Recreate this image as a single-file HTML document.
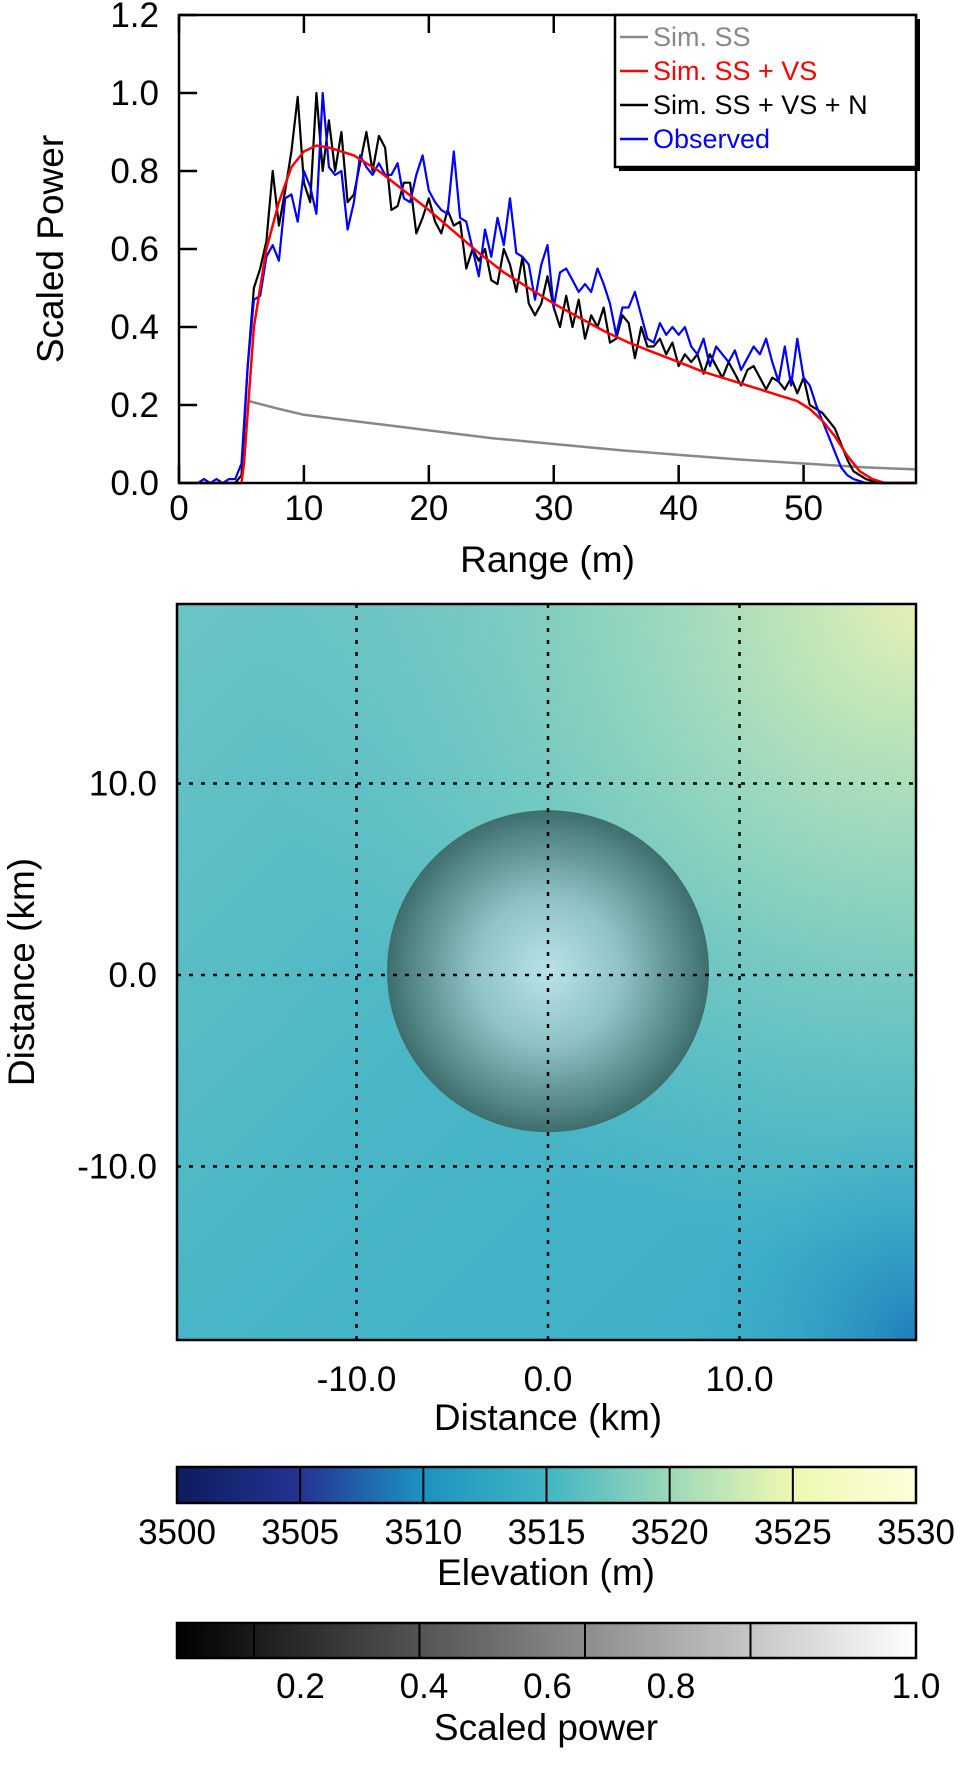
<!DOCTYPE html>
<html><head><meta charset="utf-8"><style>
html,body{margin:0;padding:0;background:#fff;}
svg{display:block;font-family:"Liberation Sans",Arial,sans-serif;}
</style></head><body>
<svg id="fig" width="966" height="1768" viewBox="0 0 966 1768" xmlns="http://www.w3.org/2000/svg">
<defs>
<radialGradient id="sphere" cx="0.5" cy="0.5" r="0.5">
<stop offset="0" stop-color="#b8e3e8"/><stop offset="0.45" stop-color="#8fc3c6"/><stop offset="0.8" stop-color="#5b8f8e"/><stop offset="1" stop-color="#3e6e6c"/>
</radialGradient>
<radialGradient id="tr" cx="1" cy="0" r="0.9"><stop offset="0" stop-color="#e4f2b4"/><stop offset="0.4" stop-color="#a4dcbc" stop-opacity="0.85"/><stop offset="1" stop-color="#7fcfc0" stop-opacity="0"/></radialGradient>
<radialGradient id="br" cx="1" cy="1" r="0.3"><stop offset="0" stop-color="#1f7fbd"/><stop offset="1" stop-color="#3aaec8" stop-opacity="0"/></radialGradient>
<linearGradient id="base" x1="0" y1="0" x2="1" y2="1"><stop offset="0" stop-color="#6cc4c4"/><stop offset="0.5" stop-color="#48b6c6"/><stop offset="1" stop-color="#3aadc8"/></linearGradient>
<linearGradient id="elev" x1="0" x2="1"><stop offset="0" stop-color="#0c1c5c"/><stop offset="0.17" stop-color="#253494"/><stop offset="0.33" stop-color="#1d91c0"/><stop offset="0.5" stop-color="#41b6c4"/><stop offset="0.67" stop-color="#9fd9b8"/><stop offset="0.83" stop-color="#edf8b1"/><stop offset="1" stop-color="#fffed9"/></linearGradient>
<linearGradient id="gray" x1="0" x2="1"><stop offset="0" stop-color="#000"/><stop offset="1" stop-color="#fff"/></linearGradient>
</defs>
<g id="topG"></g>
<g id="mapG"></g>
<g id="cbG"></g>
</svg>
<script>
const xs=[1.5,2,2.5,3,3.5,4,4.5,5,5.5,6,6.5,7,7.5,8,8.5,9,9.5,10,10.5,11,11.5,12,12.5,13,13.5,14,14.5,15,15.5,16,16.5,17,17.5,18,18.5,19,19.5,20,20.5,21,21.5,22,22.5,23,23.5,24,24.5,25,25.5,26,26.5,27,27.5,28,28.5,29,29.5,30,30.5,31,31.5,32,32.5,33,33.5,34,34.5,35,35.5,36,36.5,37,37.5,38,38.5,39,39.5,40,40.5,41,41.5,42,42.5,43,43.5,44,44.5,45,45.5,46,46.5,47,47.5,48,48.5,49,49.5,50,50.5,51,51.5,52,52.5,53,53.5,54,55,56,59];
const blackVals=[0,0,0,0,0,0,0,0.02,0.3,0.5,0.55,0.62,0.8,0.66,0.75,0.85,0.99,0.77,0.72,1.0,0.8,0.93,0.8,0.9,0.72,0.74,0.82,0.9,0.8,0.89,0.86,0.7,0.71,0.77,0.77,0.64,0.68,0.73,0.67,0.64,0.7,0.66,0.67,0.55,0.6,0.57,0.6,0.52,0.51,0.6,0.56,0.49,0.58,0.46,0.43,0.46,0.53,0.45,0.4,0.48,0.4,0.47,0.37,0.43,0.4,0.45,0.36,0.37,0.43,0.41,0.32,0.4,0.35,0.35,0.37,0.33,0.36,0.3,0.33,0.31,0.33,0.28,0.33,0.3,0.27,0.31,0.28,0.25,0.29,0.3,0.27,0.24,0.27,0.26,0.24,0.27,0.23,0.27,0.2,0.19,0.18,0.16,0.14,0.1,0.06,0.03,0.01,0,0];
const blueVals=[0,0.01,0,0.01,0,0.01,0.01,0.05,0.3,0.47,0.48,0.58,0.61,0.57,0.73,0.74,0.67,0.8,0.76,0.69,1.0,0.81,0.79,0.8,0.65,0.72,0.84,0.81,0.79,0.82,0.79,0.79,0.82,0.73,0.72,0.79,0.84,0.75,0.72,0.7,0.69,0.85,0.68,0.67,0.6,0.53,0.65,0.58,0.68,0.61,0.73,0.59,0.58,0.56,0.47,0.56,0.61,0.45,0.54,0.55,0.52,0.49,0.51,0.49,0.55,0.51,0.46,0.38,0.45,0.45,0.49,0.43,0.37,0.36,0.41,0.38,0.4,0.38,0.4,0.35,0.33,0.37,0.3,0.35,0.33,0.31,0.34,0.29,0.32,0.35,0.33,0.37,0.31,0.26,0.35,0.25,0.37,0.27,0.25,0.2,0.16,0.12,0.08,0.04,0.02,0.01,0,0,0];
const redX=[1.5,5,5.2,6,7,8,9,10,11,12,14,16,18,20,22,24,26,28,30,32,34,36,38,40,42,44,46,48,49.5,50.5,51.5,52.5,53.5,54.5,55.5,56.5,59];
const redVals=[0,0,0.05,0.4,0.6,0.72,0.81,0.85,0.865,0.86,0.84,0.8,0.75,0.7,0.645,0.59,0.54,0.5,0.46,0.425,0.39,0.36,0.335,0.31,0.285,0.265,0.245,0.225,0.21,0.19,0.16,0.12,0.07,0.03,0.01,0,0];
const grayX=[5.6,8,10,15,20,25,30,35,40,45,50,55,59];
const grayVals=[0.21,0.19,0.175,0.155,0.135,0.115,0.1,0.085,0.072,0.06,0.05,0.04,0.035];
const xTicks=[0,10,20,30,40,50];
const yTicks=[0,0.2,0.4,0.6,0.8,1.0,1.2];
const mapTicks=[-10,0,10];
const elevTicks=[3500,3505,3510,3515,3520,3525,3530];
const powerTicks=[0.2,0.4,0.6,0.8,1.0];

const NS="http://www.w3.org/2000/svg";
const FT=35, FA=37;
function mk(parent,tag,attrs,text){const e=document.createElementNS(NS,tag);for(const k in attrs)e.setAttribute(k,attrs[k]);if(text!==undefined)e.textContent=text;parent.appendChild(e);return e;}

const L=179,R=916,T=15,B=483;
const sx=v=>L+(v-0)/(59-0)*(R-L);
const sy=v=>B-v/1.2*(B-T);
const topG=document.getElementById('topG');


function line(xarr,yarr,color,name,w){const d=xarr.map((x,i)=>(i?'L':'M')+sx(x).toFixed(1)+' '+sy(yarr[i]).toFixed(1)).join(' ');const p=mk(topG,'path',{d:d,fill:'none',stroke:color,'stroke-width':w,'stroke-linejoin':'round'});

}
line(grayX,grayVals,'#888','series-sim-ss',2.5);
line(xs,blackVals,'#000','series-sim-ss-vs-n',2.2);
line(xs,blueVals,'#0000ff','series-observed',2.2);
line(redX,redVals,'#ff0000','series-sim-ss-vs',2.5);
mk(topG,'rect',{x:L,y:T,width:R-L,height:B-T,fill:'none',stroke:'#000','stroke-width':2.5});
xTicks.forEach(t=>{const x=sx(t);mk(topG,'line',{x1:x,x2:x,y1:B,y2:B-18,stroke:'#000','stroke-width':2.5});mk(topG,'line',{x1:x,x2:x,y1:T,y2:T+18,stroke:'#000','stroke-width':2.5});
const tl=mk(topG,'text',{x:x,y:B+37,'font-size':FT,'text-anchor':'middle'},String(t));

});
yTicks.forEach(t=>{const y=sy(t);mk(topG,'line',{x1:L,x2:L+18,y1:y,y2:y,stroke:'#000','stroke-width':2.5});
const tl=mk(topG,'text',{x:L-20,y:y+12,'font-size':FT,'text-anchor':'end'},t.toFixed(1));

});
const xt=mk(topG,'text',{x:(L+R)/2,y:572,'font-size':FA,'text-anchor':'middle'},'Range (m)');


const yt=mk(topG,'text',{x:0,y:0,'font-size':FA,'text-anchor':'middle',transform:'translate(63,249) rotate(-90)'},'Scaled Power');


const lg=mk(topG,'g',{});


mk(lg,'rect',{x:619,y:19,width:301,height:152,fill:'#000'});
mk(lg,'rect',{x:615,y:15,width:301,height:152,fill:'#fff',stroke:'#000','stroke-width':2.5});
[['Sim. SS','#888'],['Sim. SS + VS','#ff0000'],['Sim. SS + VS + N','#000'],['Observed','#0000ff']].forEach((e,i)=>{const y=46+i*34;
mk(lg,'line',{x1:620,x2:648,y1:y-9,y2:y-9,stroke:e[1],'stroke-width':2.5});
const t=mk(lg,'text',{x:653,y:y,'font-size':27,fill:e[1]},e[0]);

});

const mapG=document.getElementById('mapG');
const ML=177,MR=916,MT=604,MB=1340,cx0=548,cy0=975,pk=19.15;
const mx=v=>cx0+v*pk, my=v=>cy0-v*pk;
mk(mapG,'rect',{x:ML,y:MT,width:MR-ML,height:MB-MT,fill:'url(#base)'});
mk(mapG,'rect',{x:ML,y:MT,width:MR-ML,height:MB-MT,fill:'url(#tr)'});
mk(mapG,'rect',{x:ML,y:MT,width:MR-ML,height:MB-MT,fill:'url(#br)'});
const sp=mk(mapG,'circle',{cx:mx(0),cy:my(0.2),r:161,fill:'url(#sphere)'});


mapTicks.forEach(t=>{mk(mapG,'line',{x1:mx(t),x2:mx(t),y1:MT,y2:MB,stroke:'#000','stroke-width':2.5,'stroke-dasharray':'4 8'});
mk(mapG,'line',{x1:ML,x2:MR,y1:my(t),y2:my(t),stroke:'#000','stroke-width':2.5,'stroke-dasharray':'4 8'});
const a=mk(mapG,'text',{x:mx(t),y:1391,'font-size':FT,'text-anchor':'middle'},t.toFixed(1));


const b=mk(mapG,'text',{x:ML-20,y:my(t)+12,'font-size':FT,'text-anchor':'end'},t.toFixed(1));

});
mk(mapG,'rect',{x:ML,y:MT,width:MR-ML,height:MB-MT,fill:'none',stroke:'#000','stroke-width':2.5});
const mxt=mk(mapG,'text',{x:cx0,y:1430,'font-size':FA,'text-anchor':'middle'},'Distance (km)');


const myt=mk(mapG,'text',{x:0,y:0,'font-size':FA,'text-anchor':'middle',transform:'translate(34,972) rotate(-90)'},'Distance (km)');



const cbG=document.getElementById('cbG');
const c1=mk(cbG,'rect',{x:177,y:1467,width:739,height:36,fill:'url(#elev)',stroke:'#000','stroke-width':2.5});


const ex=v=>177+(v-3500)/30*739;
elevTicks.forEach(t=>{mk(cbG,'line',{x1:ex(t),x2:ex(t),y1:1467,y2:1503,stroke:'#000','stroke-width':2});
const a=mk(cbG,'text',{x:ex(t),y:1544,'font-size':FT,'text-anchor':'middle'},String(t));

});
const et=mk(cbG,'text',{x:546,y:1585,'font-size':FA,'text-anchor':'middle'},'Elevation (m)');


const c2=mk(cbG,'rect',{x:177,y:1623,width:739,height:35,fill:'url(#gray)',stroke:'#000','stroke-width':2.5});


const px=v=>177+(v-0.107)/(1.0-0.107)*739;
powerTicks.forEach((t,i)=>{if(i<4)mk(cbG,'line',{x1:px(t),x2:px(t),y1:1623,y2:1658,stroke:'#000','stroke-width':2});
const lx=i<4?177+(i+1)*123.5:916;
const a=mk(cbG,'text',{x:lx,y:1698,'font-size':FT,'text-anchor':'middle'},t.toFixed(1));

});
const pt=mk(cbG,'text',{x:546,y:1740,'font-size':FA,'text-anchor':'middle'},'Scaled power');


</script>
</body></html>
